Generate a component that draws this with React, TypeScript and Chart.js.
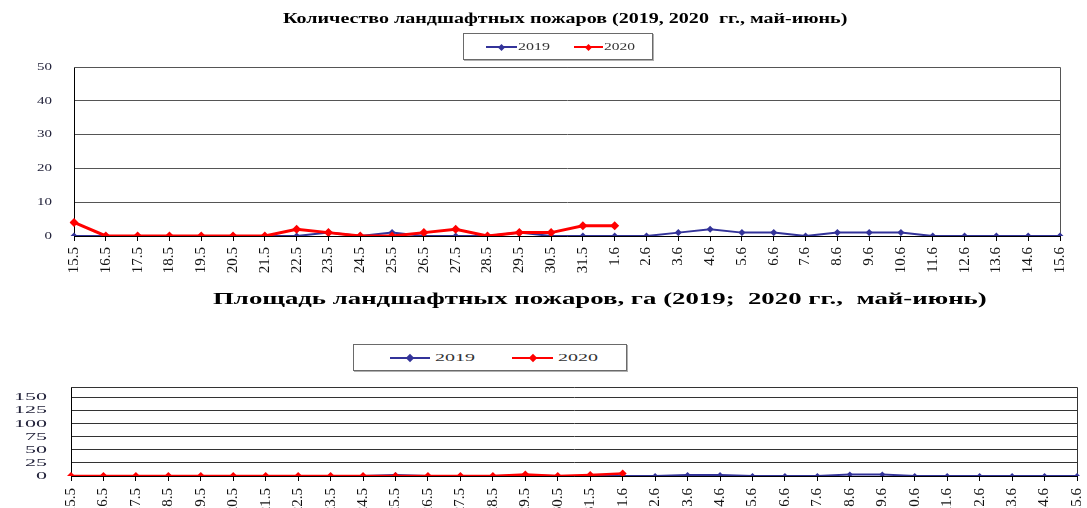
import React, { useEffect, useLayoutEffect, useRef, useState } from "react";
import { Chart, registerables } from "chart.js";

Chart.register(...registerables);

const categories = [
  "15.5", "16.5", "17.5", "18.5", "19.5", "20.5", "21.5", "22.5", "23.5", "24.5",
  "25.5", "26.5", "27.5", "28.5", "29.5", "30.5", "31.5", "1.6", "2.6", "3.6",
  "4.6", "5.6", "6.6", "7.6", "8.6", "9.6", "10.6", "11.6", "12.6", "13.6",
  "14.6", "15.6",
];

const count2019 = [0, 0, 0, 0, 0, 0, 0, 0, 1, 0, 1, 0, 0, 0, 1, 0, 0, 0, 0, 1, 2, 1, 1, 0, 1, 1, 1, 0, 0, 0, 0, 0];
const count2020 = [4, 0, 0, 0, 0, 0, 0, 2, 1, 0, 0, 1, 2, 0, 1, 1, 3, 3, null, null, null, null, null, null, null, null, null, null, null, null, null, null];

const area2019 = [0, 0, 0, 0, 0, 0, 0, 0, 0, 0, 2, 0, 0, 0, 1, 0, 0, 0, 0, 2, 2, 0, 0, 0, 3, 3, 0, 0, 0, 0, 0, 0];
const area2020 = [0, 0, 0, 0, 0, 0, 0, 0, 0, 0, 0, 0, 0, 0, 3, 0, 2, 5, null, null, null, null, null, null, null, null, null, null, null, null, null, null];

const countTicks = [0, 10, 20, 30, 40, 50];
const areaTicks = [0, 25, 50, 75, 100, 125, 150];

const seriesNames = ["2019", "2020"];
const titleCount = "Количество ландшафтных пожаров (2019, 2020  гг., май-июнь)";
const titleArea = "Площадь ландшафтных пожаров, га (2019;  2020 гг.,  май-июнь)";

const BLUE = "#333399";
const RED = "#ff0000";
const SERIF = '"Liberation Serif", "Times New Roman", serif';

const yLabelPlugin = {
  id: "yLabels",
  afterDraw(chart: any, _args: any, opts: any) {
    const scale = chart.scales.y;
    const ctx = chart.ctx;
    ctx.save();
    ctx.font = opts.font;
    ctx.fillStyle = opts.color;
    ctx.textAlign = "right";
    ctx.textBaseline = "middle";
    for (const v of opts.values) {
      const y = scale.getPixelForValue(v);
      ctx.save();
      ctx.translate(opts.right, y);
      ctx.scale(opts.scaleX, 1);
      ctx.fillText(String(v), 0, 0);
      ctx.restore();
    }
    ctx.restore();
  },
};

const xLabelPlugin = {
  id: "xLabels",
  afterDraw(chart: any, _args: any, opts: any) {
    const scale = chart.scales.x;
    const ctx = chart.ctx;
    const labels = chart.data.labels as string[];
    ctx.save();
    ctx.font = opts.font;
    ctx.fillStyle = opts.color;
    ctx.textAlign = "right";
    ctx.textBaseline = "middle";
    const y0 = scale.top + opts.gap;
    labels.forEach((lab, i) => {
      const x = scale.getPixelForTick(i);
      ctx.save();
      ctx.translate(x, y0);
      ctx.rotate(-Math.PI / 2);
      ctx.fillText(lab, 0, 0);
      ctx.restore();
    });
    ctx.restore();
  },
};

const framePlugin = {
  id: "frame",
  beforeDatasetsDraw(chart: any, _args: any, opts: any) {
    const { ctx, chartArea } = chart;
    ctx.save();
    ctx.strokeStyle = opts.color;
    ctx.lineWidth = 1;
    ctx.beginPath();
    const t = Math.round(chartArea.top) + 0.5;
    const r = Math.round(chartArea.right) + 0.5;
    ctx.moveTo(Math.round(chartArea.left), t);
    ctx.lineTo(r, t);
    ctx.lineTo(r, Math.round(chartArea.bottom));
    ctx.stroke();
    ctx.restore();
  },
};

type ChartCfg = {
  width: number;
  height: number;
  data2019: (number | null)[];
  data2020: (number | null)[];
  ticks: number[];
  max: number;
  padding: { top: number; right: number; left: number; bottom: number };
  yWidth: number;
  xHeight: number;
  xGap: number;
  gridColor: string;
  yFont: string;
  yScaleX: number;
  yRight: number;
  blueW: number;
  redW: number;
  blueR: number;
  redR: number;
};

function LineChart(p: ChartCfg) {
  const ref = useRef<HTMLCanvasElement>(null);
  useEffect(() => {
    if (!ref.current) return;
    const chart = new Chart(ref.current, {
      type: "line",
      data: {
        labels: categories,
        datasets: [
          {
            label: seriesNames[0],
            data: p.data2019,
            borderColor: BLUE,
            backgroundColor: BLUE,
            borderWidth: p.blueW,
            pointStyle: "rectRot",
            pointRadius: p.blueR,
            pointBorderWidth: 0,
            pointBackgroundColor: BLUE,
            tension: 0,
            order: 2,
          },
          {
            label: seriesNames[1],
            data: p.data2020,
            borderColor: RED,
            backgroundColor: RED,
            borderWidth: p.redW,
            pointStyle: "rectRot",
            pointRadius: p.redR,
            pointBorderWidth: 0,
            pointBackgroundColor: RED,
            tension: 0,
            spanGaps: false,
            order: 1,
          },
        ],
      },
      options: {
        animation: false,
        responsive: false,
        maintainAspectRatio: false,
        layout: { padding: p.padding },
        plugins: {
          legend: { display: false },
          title: { display: false },
          tooltip: { enabled: false },
          yLabels: { values: p.ticks, font: p.yFont, color: "#22223a", scaleX: p.yScaleX, right: p.yRight },
          xLabels: { gap: p.xGap, font: `15px ${SERIF}`, color: "#111" },
          frame: { color: p.gridColor },
        } as any,
        scales: {
          x: {
            offset: false,
            grid: { drawOnChartArea: false, drawTicks: true, tickLength: 5, color: "#000" },
            border: { display: true, color: "#000", width: 1 },
            ticks: { display: false, autoSkip: false },
            afterFit: (s: any) => {
              s.height = p.xHeight;
              s.paddingLeft = 0;
              s.paddingRight = 0;
            },
          },
          y: {
            min: 0,
            max: p.max,
            afterBuildTicks: (s: any) => {
              s.ticks = p.ticks.map((v) => ({ value: v }));
            },
            grid: { color: p.gridColor, drawTicks: false, lineWidth: 1 },
            border: { display: true, color: "#000", width: 1 },
            ticks: { display: false },
            afterFit: (s: any) => {
              s.width = p.yWidth;
            },
          },
        },
      },
      plugins: [yLabelPlugin, xLabelPlugin, framePlugin],
    } as any);
    return () => chart.destroy();
  }, []);
  return <canvas ref={ref} width={p.width} height={p.height} style={{ display: "block", width: p.width, height: p.height }} />;
}

function FitText(props: { text: string; left: number; top: number; width: number; font: string; color?: string }) {
  const ref = useRef<HTMLSpanElement>(null);
  const [sx, setSx] = useState(1);
  useLayoutEffect(() => {
    const el = ref.current;
    if (!el) return;
    const w = el.offsetWidth;
    if (w > 0) setSx(props.width / w);
  }, [props.text, props.width, props.font]);
  return (
    <span
      ref={ref}
      style={{
        position: "absolute",
        left: props.left,
        top: props.top,
        font: props.font,
        lineHeight: 1,
        color: props.color || "#000",
        whiteSpace: "pre",
        transform: `scaleX(${sx})`,
        transformOrigin: "0 0",
      }}
    >
      {props.text}
    </span>
  );
}

function LegendMark(props: { x1: number; x2: number; y: number; color: string; size: number }) {
  const cx = (props.x1 + props.x2) / 2;
  return (
    <>
      <div style={{ position: "absolute", left: props.x1, top: props.y - 1, width: props.x2 - props.x1, height: 2, background: props.color }} />
      <div
        style={{
          position: "absolute",
          left: cx - props.size / 2,
          top: props.y - props.size / 2,
          width: props.size,
          height: props.size,
          background: props.color,
          transform: "rotate(45deg)",
        }}
      />
    </>
  );
}

function LegendBox(props: { left: number; top: number; width: number; height: number }) {
  return (
    <div
      style={{
        position: "absolute",
        left: props.left,
        top: props.top,
        width: props.width,
        height: props.height,
        boxSizing: "border-box",
        border: "1px solid #6a6a6a",
        boxShadow: "1px 1px 0 #b0b0b0",
        background: "#fff",
      }}
    />
  );
}

export default function App() {
  return (
    <div style={{ position: "absolute", left: 0, top: 0, width: 1087, height: 508, overflow: "hidden", background: "#fff" }}>
      <div style={{ position: "absolute", left: 0, top: 0 }}>
        <LineChart
          width={1087}
          height={300}
          data2019={count2019}
          data2020={count2020}
          ticks={countTicks}
          max={50}
          padding={{ top: 67, right: 27, left: 0, bottom: 0 }}
          yWidth={74}
          xHeight={64}
          xGap={11}
          gridColor="#555"
          yFont={`11px ${SERIF}`}
          yScaleX={1.36}
          yRight={52}
          blueW={2}
          redW={3}
          blueR={3.5}
          redR={4.5}
        />
      </div>
      <div style={{ position: "absolute", left: 0, top: 380 }}>
        <LineChart
          width={1087}
          height={140}
          data2019={area2019}
          data2020={area2020}
          ticks={areaTicks}
          max={170}
          padding={{ top: 7, right: 10, left: 0, bottom: 0 }}
          yWidth={71}
          xHeight={44}
          xGap={12}
          gridColor="#333"
          yFont={`11px ${SERIF}`}
          yScaleX={2.0}
          yRight={47}
          blueW={2}
          redW={2.5}
          blueR={3}
          redR={4}
        />
      </div>

      <FitText text={titleCount} left={283} top={11} width={564} font={`bold 15px ${SERIF}`} />
      <LegendBox left={463} top={33} width={190} height={27} />
      <LegendMark x1={486} x2={517} y={47} color={BLUE} size={5} />
      <FitText text={seriesNames[0]} left={518} top={41} width={32} font={`11px ${SERIF}`} color="#333" />
      <LegendMark x1={574} x2={603} y={47} color={RED} size={5} />
      <FitText text={seriesNames[1]} left={604} top={41} width={31} font={`11px ${SERIF}`} color="#333" />

      <FitText text={titleArea} left={213} top={290} width={774} font={`bold 17px ${SERIF}`} />
      <LegendBox left={353} top={344} width={274} height={27} />
      <LegendMark x1={390} x2={430} y={358} color={BLUE} size={6} />
      <FitText text={seriesNames[0]} left={435} top={352} width={40} font={`11px ${SERIF}`} color="#333" />
      <LegendMark x1={512} x2={553} y={358} color={RED} size={6} />
      <FitText text={seriesNames[1]} left={558} top={352} width={40} font={`11px ${SERIF}`} color="#333" />
    </div>
  );
}
